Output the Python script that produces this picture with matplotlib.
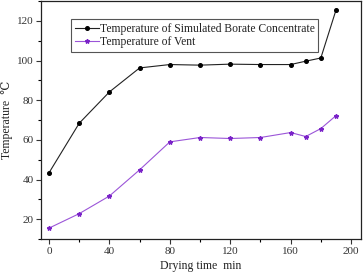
import matplotlib
matplotlib.use("Agg")
import matplotlib.pyplot as plt
from matplotlib.ticker import MultipleLocator

time_min = [0, 20, 40, 60, 80, 100, 120, 140, 160, 170, 180, 190]
borate_temp = [43.4, 68.4, 84.2, 96.3, 98.0, 97.7, 98.2, 98.0, 98.0, 99.7, 101.3, 125.4]
vent_temp = [15.5, 22.8, 31.7, 44.9, 59.0, 61.2, 60.7, 61.2, 63.7, 61.7, 65.7, 72.2]
labels = ["Temperature of Simulated Borate Concentrate", "Temperature of Vent"]

plt.rcParams['font.family'] = ['Liberation Serif', 'DejaVu Serif']
fig = plt.figure(figsize=(3.63, 2.76), dpi=100)
ax = fig.add_axes([0.113, 0.134, 0.8815, 0.862])

ax.plot(time_min, borate_temp, color='#222222', lw=0.8, marker='o', ms=2.6,
        mfc='black', mec='black', label=labels[0])
ax.plot(time_min, vent_temp, color='#9B55D8', lw=0.8, marker='*', ms=3.2,
        mfc='#7A22C8', mec='#7A22C8', label=labels[1])

ax.set_xlim(-5.3, 206.6)
ax.set_ylim(10, 130)
ax.xaxis.set_major_locator(MultipleLocator(40))
ax.xaxis.set_minor_locator(MultipleLocator(20))
ax.yaxis.set_major_locator(MultipleLocator(20))
ax.yaxis.set_minor_locator(MultipleLocator(10))
ax.set_yticks([20, 40, 60, 80, 100, 120])
ax.tick_params(which='major', direction='out', length=3.5, width=0.8, labelsize=8,
               colors='#333333', pad=2)
ax.tick_params(which='minor', direction='out', length=2, width=0.8)
for s in ax.spines.values():
    s.set_linewidth(0.9)
    s.set_color('#222222')

ax.set_xlabel("Drying time  min", fontsize=8.5, labelpad=3, color='#222222')
ax.set_ylabel("Temperature  \u2103", fontsize=8.5, labelpad=3, color='#222222')

leg = ax.legend(loc='upper left', bbox_to_anchor=(0.094, 0.924), fontsize=8.4,
                frameon=True, fancybox=False, edgecolor='#555555', framealpha=1,
                handlelength=2.1, handletextpad=0.05, borderpad=0.3,
                labelspacing=0.12, borderaxespad=0)
leg.get_frame().set_linewidth(0.8)
for t in leg.get_texts():
    t.set_color('#222222')

fig.savefig("out.png", dpi=100)
